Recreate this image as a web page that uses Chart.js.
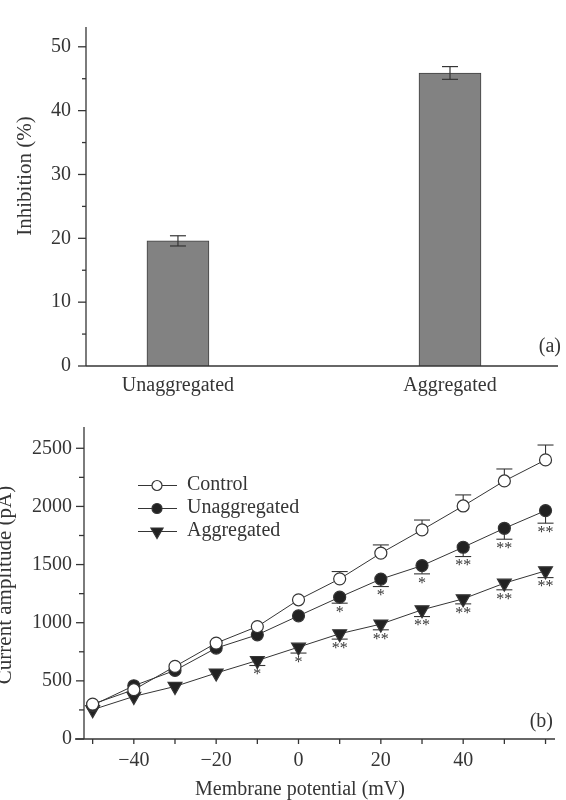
<!DOCTYPE html>
<html><head><meta charset="utf-8">
<script src="https://cdn.jsdelivr.net/npm/chart.js@4.4.0/dist/chart.umd.min.js"></script>
<style>
html,body{margin:0;padding:0;background:#fff;width:566px;height:800px;overflow:hidden}
.panel{position:absolute;left:0;width:566px;height:400px}
#pa{top:0}#pb{top:400px}
</style></head><body>
<div class="panel" id="pa"><canvas id="ca" width="566" height="400"></canvas></div>
<div class="panel" id="pb"><canvas id="cb" width="566" height="400"></canvas></div>
<script>
// ---------- Panel (a) data ----------
const barCategories = ['Unaggregated', 'Aggregated'];
const inhibition = [19.6, 45.9];
const inhibitionErr = [0.8, 1.0];
const inhibitionTicks = [0, 10, 20, 30, 40, 50];
const inhibitionMinorTicks = [5, 15, 25, 35, 45];

// ---------- Panel (b) data ----------
const potentials = [-50, -40, -30, -20, -10, 0, 10, 20, 30, 40, 50, 60];
const control      = [300, 424, 624, 825, 967, 1197, 1377, 1598, 1798, 2004, 2219, 2400];
const controlErr   = [0, 0, 0, 0, 0, 0, 63, 71, 85, 95, 103, 128];
const unaggregated = [290, 458, 590, 782, 896, 1059, 1220, 1375, 1491, 1649, 1812, 1964];
const unaggErr     = [0, 0, 0, 0, 0, 0, 52, 64, 71, 80, 94, 108];
const aggregated   = [252, 366, 452, 567, 675, 790, 905, 988, 1111, 1205, 1340, 1446];
const aggrErr      = [0, 0, 0, 0, 43, 51, 46, 49, 58, 43, 57, 58];
const unaggStars   = ['', '', '', '', '', '', '*', '*', '*', '**', '**', '**'];
const aggrStars    = ['', '', '', '', '*', '*', '**', '**', '**', '**', '**', '**'];
const seriesNames  = ['Control', 'Unaggregated', 'Aggregated'];
const currentTicks = [0, 500, 1000, 1500, 2000, 2500];
const currentMinorTicks = [250, 750, 1250, 1750, 2250];
const potentialTicks = [-40, -20, 0, 20, 40];
const potentialMinorTicks = [-50, -30, -10, 10, 30, 50, 60];

const INK = '#353535';
const FONT = '"Liberation Serif", "Times New Roman", serif';
const fmt = v => (v < 0 ? '\u2212' + Math.abs(v) : String(v));

function line(ctx, x1, y1, x2, y2) { ctx.beginPath(); ctx.moveTo(x1, y1); ctx.lineTo(x2, y2); ctx.stroke(); }
function text(ctx, s, x, y, size, align, base, rot) {
  ctx.save(); ctx.translate(x, y); if (rot) ctx.rotate(rot);
  ctx.font = size + 'px ' + FONT; ctx.fillStyle = INK; ctx.textAlign = align; ctx.textBaseline = base;
  ctx.fillText(s, 0, 0); ctx.restore();
}

// ---------- Panel (a) ----------
const panelAPlugin = {
  id: 'panelA',
  afterDatasetsDraw(chart) {
    const { ctx, scales: { x, y }, chartArea: ca } = chart;
    ctx.save();
    ctx.strokeStyle = INK; ctx.lineWidth = 1.3;
    line(ctx, ca.left, ca.top, ca.left, ca.bottom);
    line(ctx, ca.left, ca.bottom, ca.right, ca.bottom);
    inhibitionTicks.forEach(v => { const p = y.getPixelForValue(v); line(ctx, ca.left - 8, p, ca.left, p); });
    inhibitionMinorTicks.forEach(v => { const p = y.getPixelForValue(v); line(ctx, ca.left - 4, p, ca.left, p); });
    ctx.lineWidth = 1.2;
    inhibition.forEach((v, i) => {
      const px = x.getPixelForValue(i + 1);
      const t = y.getPixelForValue(v + inhibitionErr[i]);
      const b = y.getPixelForValue(v - inhibitionErr[i]);
      line(ctx, px, t, px, b);
      line(ctx, px - 8, t, px + 8, t);
      line(ctx, px - 8, b, px + 8, b);
    });
    ctx.restore();
  },
  afterDraw(chart) {
    const { ctx } = chart;
    text(ctx, 'Inhibition (%)', 31, 176, 21, 'center', 'alphabetic', -Math.PI / 2);
    text(ctx, '(a)', 561, 352, 20, 'right', 'alphabetic');
  }
};

new Chart(document.getElementById('ca'), {
  type: 'bar',
  data: {
    datasets: [{
      data: barCategories.map((c, i) => ({ x: i + 1, y: inhibition[i] })),
      backgroundColor: '#828282', borderColor: '#404040', borderWidth: 1, barThickness: 62
    }]
  },
  options: {
    responsive: false, animation: false, events: [],
    layout: { padding: { top: 15, right: 8, left: 0, bottom: 0 } },
    plugins: { legend: { display: false }, tooltip: { enabled: false } },
    scales: {
      x: {
        type: 'linear', min: 0.662, max: 2.397, offset: false,
        grid: { display: false, drawTicks: false, offset: false }, border: { display: false },
        afterBuildTicks: s => { s.ticks = barCategories.map((c, i) => ({ value: i + 1 })); },
        afterFit: s => { s.height = 34; },
        ticks: { padding: 8, color: INK, font: { family: FONT, size: 20 }, maxRotation: 0, autoSkip: false,
                 callback: v => barCategories[v - 1] }
      },
      y: {
        min: 0, max: 53.1,
        grid: { display: false, drawTicks: false }, border: { display: false },
        afterBuildTicks: s => { s.ticks = inhibitionTicks.map(v => ({ value: v })); },
        afterFit: s => { s.width = 86; },
        ticks: { padding: 15, color: INK, font: { family: FONT, size: 20 }, callback: v => String(v) }
      }
    }
  },
  plugins: [panelAPlugin]
});

// ---------- Panel (b) ----------
const panelBPlugin = {
  id: 'panelB',
  beforeDatasetsDraw(chart) {
    const { ctx, scales: { x, y }, chartArea: ca } = chart;
    ctx.save();
    ctx.strokeStyle = INK; ctx.lineWidth = 1.3;
    line(ctx, ca.left, ca.top, ca.left, ca.bottom);
    line(ctx, ca.left - 9, ca.bottom, ca.right, ca.bottom);
    currentTicks.forEach(v => { const p = y.getPixelForValue(v); line(ctx, ca.left - 8, p, ca.left, p); });
    currentMinorTicks.forEach(v => { const p = y.getPixelForValue(v); line(ctx, ca.left - 5, p, ca.left, p); });
    potentialTicks.concat(potentialMinorTicks).forEach(v => { const p = x.getPixelForValue(v); line(ctx, p, ca.bottom, p, ca.bottom + 5); });
    ctx.lineWidth = 1.1;
    chart.data.datasets.forEach(ds => {
      ds.data.forEach((pt, i) => {
        if (!ds.errors[i]) return;
        const px = x.getPixelForValue(pt.x);
        const p0 = y.getPixelForValue(pt.y);
        const p1 = y.getPixelForValue(pt.y + ds.errDir * ds.errors[i]);
        line(ctx, px, p0, px, p1);
        line(ctx, px - 8, p1, px + 8, p1);
      });
    });
    ctx.restore();
  },
  afterDatasetsDraw(chart) {
    const { ctx, scales: { x, y } } = chart;
    chart.data.datasets.forEach(ds => {
      if (!ds.stars) return;
      ds.data.forEach((pt, i) => {
        if (!ds.stars[i]) return;
        const px = x.getPixelForValue(pt.x);
        const p1 = y.getPixelForValue(pt.y - ds.errors[i]);
        text(ctx, ds.stars[i], px, p1 + 1.5, 16, 'center', 'top');
      });
    });
  },
  afterDraw(chart) {
    const { ctx } = chart;
    const rows = [85.5, 108.5, 131.5];
    chart.data.datasets.forEach((ds, i) => {
      const yy = rows[i];
      ctx.save();
      ctx.strokeStyle = INK; ctx.lineWidth = 1;
      line(ctx, 138, yy, 177, yy);
      ctx.fillStyle = ds.pointBackgroundColor; ctx.strokeStyle = INK; ctx.lineWidth = 1.2;
      Chart.helpers.drawPoint(ctx, { pointStyle: ds.pointStyle, rotation: ds.pointRotation, radius: ds.pointRadius - 1, borderWidth: 1.2 }, 157, yy);
      ctx.restore();
      text(ctx, ds.label, 187, yy - 1, 20, 'left', 'middle');
    });
    text(ctx, 'Current amplitude (pA)', 11, 185, 21, 'center', 'alphabetic', -Math.PI / 2);
    text(ctx, 'Membrane potential (mV)', 300, 395, 20, 'center', 'alphabetic');
    text(ctx, '(b)', 553, 327, 20, 'right', 'alphabetic');
  }
};

function series(i, values, errs, dir, stars, style, fill, r) {
  return {
    label: seriesNames[i],
    data: potentials.map((p, k) => ({ x: p, y: values[k] })),
    errors: errs, errDir: dir, stars: stars,
    borderColor: INK, borderWidth: 1, tension: 0, fill: false,
    pointStyle: style, pointRotation: style === 'triangle' ? 180 : 0, pointRadius: r,
    pointBackgroundColor: fill, pointBorderColor: INK, pointBorderWidth: 1.2
  };
}

new Chart(document.getElementById('cb'), {
  type: 'line',
  data: {
    datasets: [
      series(0, control, controlErr, 1, null, 'circle', '#ffffff', 6),
      series(1, unaggregated, unaggErr, -1, unaggStars, 'circle', '#222222', 6),
      series(2, aggregated, aggrErr, -1, aggrStars, 'triangle', '#222222', 8)
    ]
  },
  options: {
    responsive: false, animation: false, events: [],
    layout: { padding: { top: 27, right: 11, left: 0, bottom: 0 } },
    plugins: { legend: { display: false }, tooltip: { enabled: false } },
    scales: {
      x: {
        type: 'linear', min: -52.1, max: 62.3,
        grid: { display: false, drawTicks: false }, border: { display: false },
        afterBuildTicks: s => { s.ticks = potentialTicks.map(v => ({ value: v })); },
        afterFit: s => { s.height = 61; },
        ticks: { padding: 10, color: INK, font: { family: FONT, size: 20 }, maxRotation: 0, autoSkip: false, callback: v => fmt(v) }
      },
      y: {
        min: 0, max: 2683,
        grid: { display: false, drawTicks: false }, border: { display: false },
        afterBuildTicks: s => { s.ticks = currentTicks.map(v => ({ value: v })); },
        afterFit: s => { s.width = 84; },
        ticks: { padding: 12, color: INK, font: { family: FONT, size: 20 }, callback: v => fmt(v) }
      }
    }
  },
  plugins: [panelBPlugin]
});
</script>
</body></html>
